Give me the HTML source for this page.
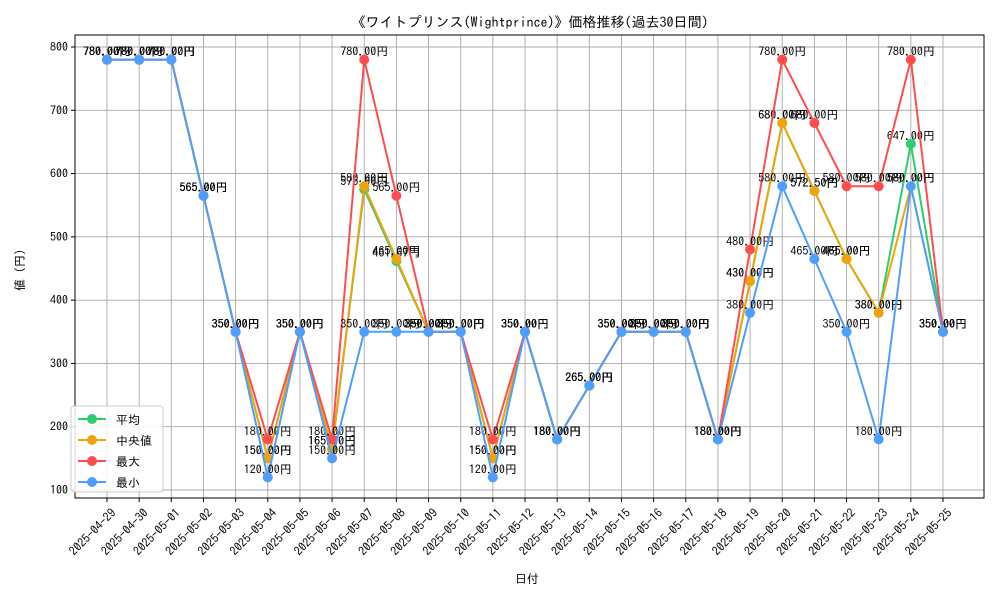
<!DOCTYPE html>
<html><head><meta charset="utf-8"><style>
body{margin:0;background:#fff;font-family:"IPAGothic","Noto Sans CJK JP",sans-serif}
svg text{font-family:"IPAGothic","Noto Sans CJK JP",sans-serif}
</style></head><body>
<svg id="chart" width="1000" height="600" xmlns="http://www.w3.org/2000/svg">
<rect width="1000" height="600" fill="#fff"/>
<text x="530" y="27" text-anchor="middle" font-size="14">《ワイトプリンス(Wightprince)》価格推移(過去30日間)</text>
<g id="grid"></g><g id="axes"></g><g id="series"></g>
<text x="527" y="583" text-anchor="middle" font-size="12">日付</text>
<text transform="translate(24,270) rotate(-90)" text-anchor="middle" font-size="12">値 (円)</text>
</svg>
<script>
const dates=["2025-04-29","2025-04-30","2025-05-01","2025-05-02","2025-05-03","2025-05-04","2025-05-05","2025-05-06","2025-05-07","2025-05-08","2025-05-09","2025-05-10","2025-05-11","2025-05-12","2025-05-13","2025-05-14","2025-05-15","2025-05-16","2025-05-17","2025-05-18","2025-05-19","2025-05-20","2025-05-21","2025-05-22","2025-05-23","2025-05-24","2025-05-25"];
const meanVals=[780,780,780,565,350,150,350,165,575,461.67,350,350,150,350,180,265,350,350,350,180,430,680,572.5,465,380,647,350];
const medianVals=[780,780,780,565,350,150,350,165,580,465,350,350,150,350,180,265,350,350,350,180,430,680,572.5,465,380,580,350];
const maxVals=[780,780,780,565,350,180,350,180,780,565,350,350,180,350,180,265,350,350,350,180,480,780,680,580,580,780,350];
const minVals=[780,780,780,565,350,120,350,150,350,350,350,350,120,350,180,265,350,350,350,180,380,580,465,350,180,580,350];
const yTicks=[100,200,300,400,500,600,700,800];
const NS="http://www.w3.org/2000/svg";
const L=75,R=984,T=35,B=498;
const x=i=>107+i*(943-107)/(dates.length-1);
const y=v=>490-(v-100)*(490-47)/700;
function mk(tag,attrs,parent){const e=document.createElementNS(NS,tag);for(const k in attrs)e.setAttribute(k,attrs[k]);parent.appendChild(e);return e;}
const grid=document.getElementById('grid'),axes=document.getElementById('axes'),ser=document.getElementById('series');
dates.forEach((d,i)=>{
 const g=mk('line',{x1:x(i),x2:x(i),y1:T,y2:B,stroke:'#a8a8a8','stroke-width':0.9},grid);
 
 
 const t=mk('line',{x1:x(i),x2:x(i),y1:B,y2:B+4,stroke:'#000'},axes);
 
 
 const lb=mk('text',{x:x(i)+4,y:B+10,'font-size':12,'text-anchor':'end',transform:`rotate(-45 ${x(i)+4} ${B+10})`,'dominant-baseline':'hanging'},axes);
 lb.textContent=d;
 
 
});
yTicks.forEach(v=>{
 const g=mk('line',{x1:L,x2:R,y1:y(v),y2:y(v),stroke:'#a8a8a8','stroke-width':0.9},grid);
 
 
 mk('line',{x1:L-4,x2:L,y1:y(v),y2:y(v),stroke:'#000'},axes);
 const lb=mk('text',{x:L-7,y:y(v)+4,'font-size':12,'text-anchor':'end'},axes);
 lb.textContent=v;
 
 
});
const frame=mk('rect',{x:L,y:T,width:R-L,height:B-T,fill:'none',stroke:'#000','stroke-width':1},axes);


const series=[["平均",meanVals,"#2ecc71","mean"],["中央値",medianVals,"#f0a30a","median"],["最大",maxVals,"#ff4d4d","max"],["最小",minVals,"#4d9fff","min"]];
series.forEach(([name,vals,col,key])=>{
 const g=mk('g',{},ser);
 
 
 const pl=mk('polyline',{points:vals.map((v,i)=>x(i)+','+y(v)).join(' '),fill:'none',stroke:col,'stroke-width':2},g);
 
 
 vals.forEach((v,i)=>{
  const c=mk('circle',{cx:x(i),cy:y(v),r:5,fill:col},g);
  
  
  const t=mk('text',{x:x(i),y:y(v)-4,'font-size':12,'text-anchor':'middle',fill:'#000'},g);
  t.textContent=v.toFixed(2)+'円';
  
  
 });
});
const lg=mk('g',{},ser);


mk('rect',{x:71,y:406,width:92,height:86,fill:'#fff','fill-opacity':0.85,stroke:'#ccc',rx:3},lg);
series.forEach(([name,vals,col,key],k)=>{
 const yy=419+k*21;
 mk('line',{x1:78,x2:106,y1:yy,y2:yy,stroke:col,'stroke-width':2},lg);
 mk('circle',{cx:92,cy:yy,r:5,fill:col},lg);
 const t=mk('text',{x:116,y:yy+5,'font-size':12},lg);
 t.textContent=name;
 
 
});
</script>
</body></html>
